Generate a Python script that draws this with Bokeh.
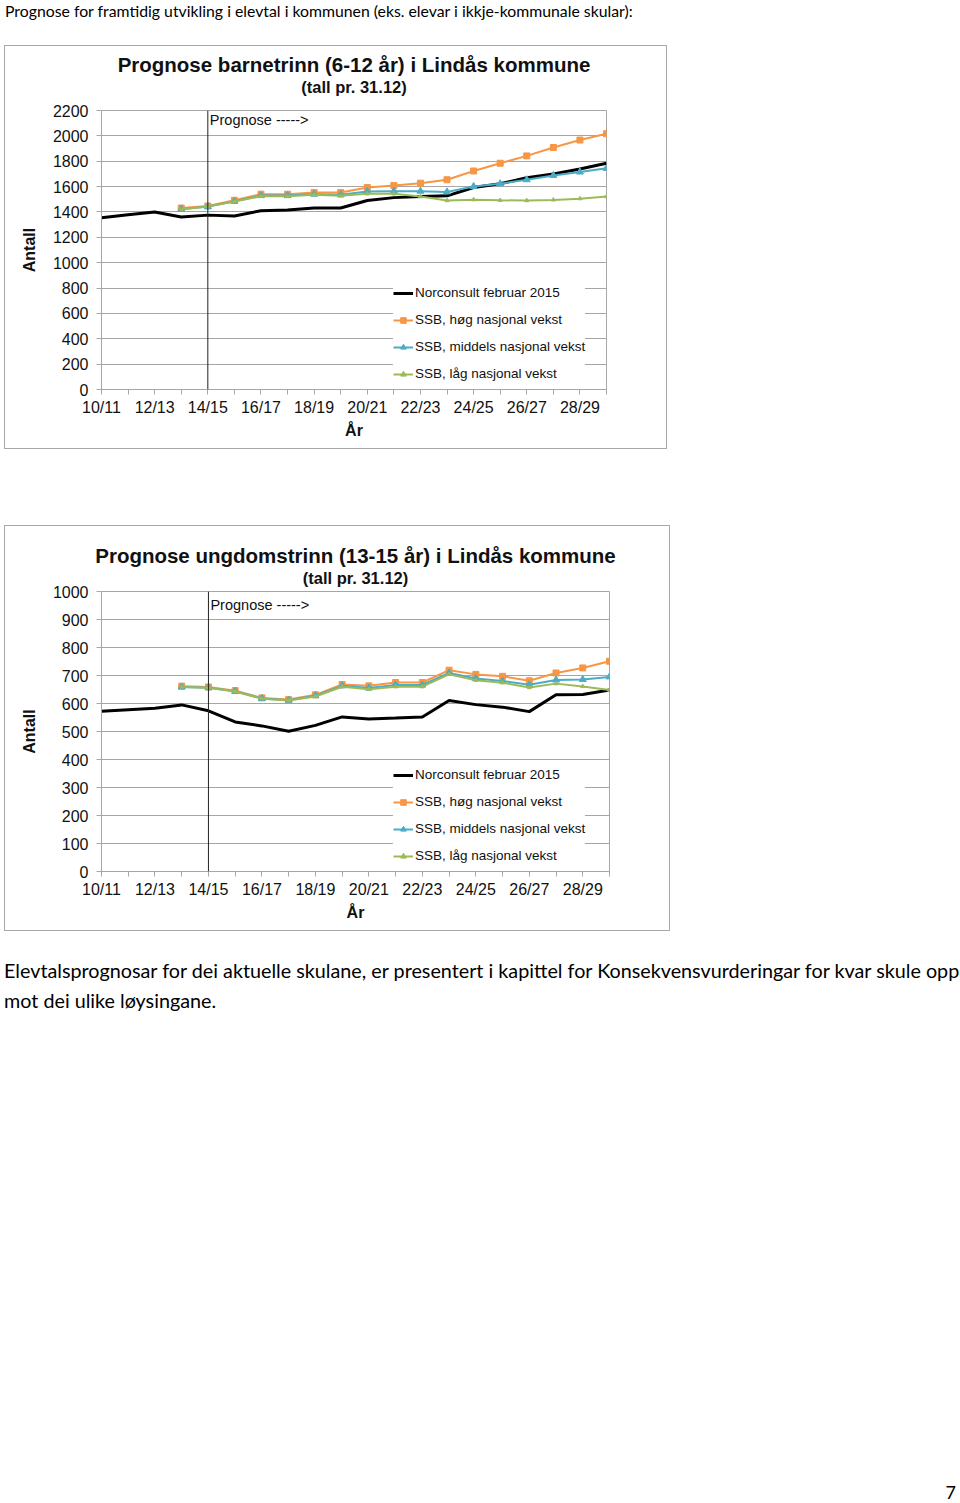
from bokeh.plotting import figure
from bokeh.models import (Range1d, FixedTicker, Title, Label, Span, Div, Spacer)
from bokeh.layouts import column, row
from bokeh.embed import file_html
from bokeh.resources import INLINE

# ---------------- data ----------------
years = ["10/11", "11/12", "12/13", "13/14", "14/15", "15/16", "16/17", "17/18",
         "18/19", "19/20", "20/21", "21/22", "22/23", "23/24", "24/25", "25/26",
         "26/27", "27/28", "28/29", "29/30"]
ssb_start = 3  # SSB series start at 13/14

# Barnetrinn (6-12 år)
barn_norconsult = [1354, 1378, 1399, 1360, 1375, 1368, 1410, 1415, 1431, 1431,
                   1490, 1513, 1521, 1527, 1593, 1622, 1670, 1699, 1739, 1784]
barn_hog = [1431, 1447, 1492, 1540, 1540, 1553, 1553, 1593, 1609, 1627, 1654,
            1723, 1784, 1842, 1908, 1967, 2017]
barn_middels = [1421, 1442, 1484, 1529, 1529, 1540, 1535, 1561, 1564, 1564, 1558,
                1601, 1622, 1654, 1688, 1715, 1744]
barn_lag = [1421, 1442, 1482, 1524, 1524, 1535, 1527, 1543, 1543, 1521, 1490,
            1497, 1492, 1490, 1495, 1505, 1521]

# Ungdomstrinn (13-15 år)
ungd_norconsult = [572, 578, 583, 595, 574, 534, 520, 501, 522, 552,
                   545, 548, 552, 611, 596, 587, 571, 631, 632, 648]
ungd_hog = [662, 659, 646, 620, 614, 631, 668, 663, 675, 675, 719, 704, 697, 681,
            709, 727, 751]
ungd_middels = [659, 656, 644, 618, 612, 628, 663, 655, 666, 666, 709, 689, 680,
                667, 684, 686, 695]
ungd_lag = [659, 656, 643, 617, 611, 625, 660, 651, 660, 660, 704, 683, 674, 657,
            671, 661, 648]

series_names = ["Norconsult februar 2015", "SSB, høg nasjonal vekst",
                "SSB, middels nasjonal vekst", "SSB, låg nasjonal vekst"]

FONT = "Liberation Sans"
GRID = "#a6a6a6"
ORANGE = "#F79646"
BLUE = "#4BACC6"
GREEN = "#9BBB59"


def make_chart(title, subtitle, ymax, ystep, frame_w, frame_h, borders,
               norconsult, hog, middels, lag, title_dx, gap, prog_dy):
    bl, br, bt, bb = borders
    p = figure(frame_width=frame_w, frame_height=frame_h,
               output_backend="svg", toolbar_location=None,
               x_range=Range1d(0, len(years) - 1), y_range=Range1d(0, ymax),
               min_border_left=bl, min_border_right=br,
               min_border_top=bt, min_border_bottom=bb,
               background_fill_color="white", border_fill_color="white",
               styles={"border": "1px solid #a8a8a8"})
    p.outline_line_color = GRID
    p.outline_line_width = 1

    # titles stack outward from the plot frame: spacer, subtitle, main title
    spacer_title = Title(text=" ", text_font=FONT, text_font_size="1px",
                         standoff=gap, text_line_height=1.0)
    sub = Title(text=subtitle, text_font=FONT, text_font_size="16.5px",
                text_font_style="bold", align="center", offset=title_dx,
                standoff=0, text_color="#111111", text_line_height=1.0)
    main = Title(text=title, text_font=FONT, text_font_size="20.5px",
                 text_font_style="bold", align="center", offset=title_dx,
                 standoff=0, text_color="#111111", text_line_height=1.0)
    p.add_layout(spacer_title, "above")
    p.add_layout(sub, "above")
    p.add_layout(main, "above")

    xs = list(range(len(years)))
    xs_ssb = xs[ssb_start:]

    p.line(xs, norconsult, line_color="black", line_width=3,
           legend_label=series_names[0])
    p.line(xs_ssb, hog, line_color=ORANGE, line_width=2, legend_label=series_names[1])
    p.scatter(xs_ssb, hog, marker="square", size=6, fill_color=ORANGE,
              line_color=ORANGE, legend_label=series_names[1])
    p.line(xs_ssb, middels, line_color=BLUE, line_width=2, legend_label=series_names[2])
    p.scatter(xs_ssb, middels, marker="triangle", size=7, fill_color=BLUE,
              line_color=BLUE, legend_label=series_names[2])
    p.line(xs_ssb, lag, line_color=GREEN, line_width=2, legend_label=series_names[3])
    p.scatter(xs_ssb, lag, marker="triangle", size=4, fill_color=GREEN,
              line_color=GREEN, legend_label=series_names[3])

    # prognosis marker
    p.add_layout(Span(location=4, dimension="height", line_color="#222222",
                      line_width=1))
    p.add_layout(Label(x=4, y=ymax, text="Prognose ----->", text_font=FONT,
                       text_font_size="14.5px", text_baseline="top",
                       x_offset=2, y_offset=prog_dy, text_color="#111111"))

    # axes
    p.xaxis.ticker = FixedTicker(ticks=xs[0::2], minor_ticks=xs[1::2])
    p.xaxis.major_label_overrides = {i: years[i] for i in xs}
    p.yaxis.ticker = FixedTicker(ticks=list(range(0, ymax + 1, ystep)))
    for ax in (p.xaxis[0], p.yaxis[0]):
        ax.axis_line_color = GRID
        ax.major_tick_line_color = GRID
        ax.minor_tick_line_color = GRID
        ax.major_tick_in = 0
        ax.major_tick_out = 5
        ax.minor_tick_in = 0
        ax.minor_tick_out = 5
        ax.major_label_text_font = FONT
        ax.major_label_text_font_size = "16px"
        ax.major_label_text_color = "#111111"
        ax.axis_label_text_font = FONT
        ax.axis_label_text_font_size = "16px"
        ax.axis_label_text_font_style = "bold"
        ax.axis_label_text_color = "#111111"
    p.yaxis.minor_tick_line_color = None
    p.xaxis.major_label_standoff = 4
    p.yaxis.major_label_standoff = 8
    p.xaxis.axis_label = "År"
    p.yaxis.axis_label = "Antall"
    p.xaxis.axis_label_standoff = 3
    p.yaxis.axis_label_standoff = 12

    p.xgrid.grid_line_color = None
    p.ygrid.grid_line_color = GRID
    p.ygrid.grid_line_width = 1

    lg = p.legend[0]
    lg.location = (292, 8)
    lg.margin = 0
    lg.padding = 7
    lg.spacing = 12
    lg.label_height = 14
    lg.glyph_height = 14
    lg.glyph_width = 20
    lg.label_standoff = 2
    lg.border_line_color = None
    lg.background_fill_color = "white"
    lg.background_fill_alpha = 1.0
    lg.label_text_font = FONT
    lg.label_text_font_size = "13.5px"
    lg.label_text_color = "#111111"
    return p


p1 = make_chart("Prognose barnetrinn (6-12 år) i Lindås kommune", "(tall pr. 31.12)",
                2200, 200, 503, 277, (96, 62, 64, 61),
                barn_norconsult, barn_hog, barn_middels, barn_lag, 6, 12, -1)
p2 = make_chart("Prognose ungdomstrinn (13-15 år) i Lindås kommune", "(tall pr. 31.12)",
                1000, 100, 506, 278, (96, 62, 65, 61),
                ungd_norconsult, ungd_hog, ungd_middels, ungd_lag, 3, 2, -5)

BODY = "Lato, 'Open Sans', sans-serif"
top_div = Div(text=("<div style=\"font-family:%s;font-size:15.8px;line-height:22px;"
                    "padding-left:5px;white-space:nowrap;color:#000\">"
                    "Prognose for framtidig utvikling i elevtal i kommunen "
                    "(eks. elevar i ikkje-kommunale skular):</div>") % BODY,
              width=960, height=45, margin=0)
bottom_div = Div(text=("<div style=\"font-family:%s;font-size:19.75px;line-height:30px;"
                       "padding-top:25px;padding-left:4px;white-space:nowrap;color:#000\">"
                       "Elevtalsprognosar for dei aktuelle skulane, er presentert i kapittel "
                       "for Konsekvensvurderingar for kvar skule opp<br>"
                       "mot dei ulike løysingane.</div>") % BODY,
                 width=960, height=90, margin=0)
page_div = Div(text=("<div style=\"font-family:%s;font-size:18px;line-height:20px;"
                     "padding-top:461px;text-align:right;width:956px;color:#000\">7</div>") % BODY,
               width=960, height=482, margin=0)

layout = column(
    top_div,
    row(Spacer(width=4, height=404, margin=0), p1),
    Spacer(width=960, height=76, margin=0),
    row(Spacer(width=4, height=406, margin=0), p2),
    bottom_div,
    page_div,
)

open("out.html", "w").write(file_html(layout, INLINE))
